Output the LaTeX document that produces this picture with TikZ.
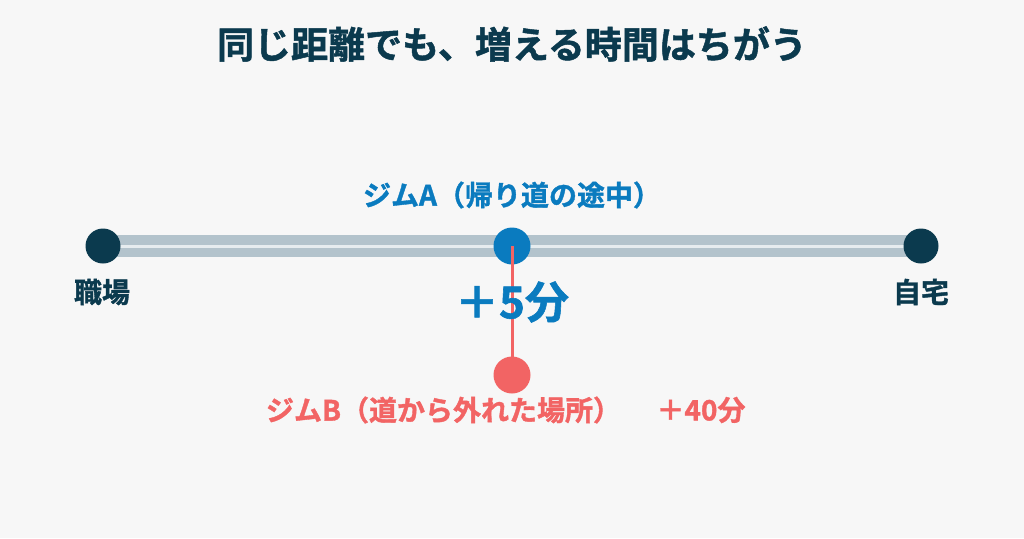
\documentclass[tikz,border=0pt]{standalone}
\usepackage{fontspec}
\newfontfamily\jp{Noto Sans CJK JP Bold}[FakeBold=1.3]
\definecolor{bg}{HTML}{F7F7F7}
\definecolor{navy}{HTML}{0B3A4E}
\definecolor{gblue}{HTML}{0A7BBF}
\definecolor{gred}{HTML}{F26464}
\definecolor{road}{HTML}{B3C3CC}
\definecolor{roadmid}{HTML}{E6ECEF}
\begin{document}
\begin{tikzpicture}[x=1pt,y=-1pt,
  lbl/.style={inner sep=0pt,font=\jp\fontsize{#1}{#1}\selectfont},
  dot/.style={circle,inner sep=0pt,minimum size=#1}]
\useasboundingbox[fill=bg] (0,0) rectangle (1024,538);
\node[lbl=37,text=navy] (title) at (512,44) {同じ距離でも、増える時間はちがう};
\coordinate (rl) at (103,246);
\coordinate (rr) at (921,246);
\draw[road,line width=22pt] (rl) -- (rr);
\draw[roadmid,line width=3pt] (rl) -- (rr);
\node[dot=35pt,fill=navy] (work) at (103,246) {};
\node[dot=35pt,fill=navy] (home) at (921,246) {};
\node[dot=37pt,fill=gblue] (gA) at (512,246) {};
\node[dot=37pt,fill=gred] (gB) at (512,375) {};
\draw[gred,line width=3pt] (gA.center) -- (gB.center);
\node[lbl=28,text=navy] (lwork) at (102,292) {職場};
\node[lbl=28,text=navy] (lhome) at (921,292) {自宅};
\node[lbl=28,text=gblue] (lA) at (512,195) {ジムA（帰り道の途中）};
\node[lbl=44,text=gblue] (tA) at (512,302) {＋5分};
\node[lbl=28,text=gred] (lB) at (443.5,410) {ジムB（道から外れた場所）};
\node[lbl=28,text=gred] (tB) at (701,410) {＋40分};
\end{tikzpicture}
\end{document}
